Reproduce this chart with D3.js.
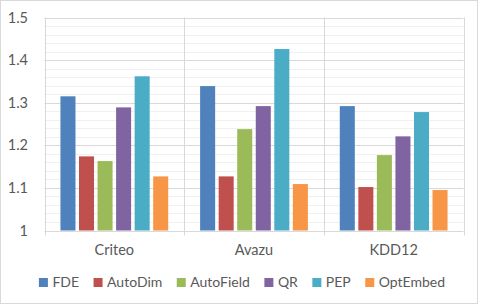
<!DOCTYPE html>
<html>
<head>
<meta charset="utf-8">
<script src="https://cdn.jsdelivr.net/npm/d3@7"></script>
<style>
  body { margin: 0; background: #fff; }
  text { font-family: Lato, "Open Sans", sans-serif; fill: #595959; }
</style>
</head>
<body>
<svg id="chart" width="478" height="304"></svg>
<script>
const datasets = ["Criteo", "Avazu", "KDD12"]
const methods = ["FDE", "AutoDim", "AutoField", "QR", "PEP", "OptEmbed"]
const colors = ["#4F81BD", "#C0504D", "#9BBB59", "#8064A2", "#4BACC6", "#F79646"]

// one array per method, in dataset order
const fde = [1.315, 1.339, 1.292]
const autoDim = [1.174, 1.127, 1.102]
const autoField = [1.163, 1.238, 1.177]
const qr = [1.289, 1.292, 1.221]
const pep = [1.362, 1.426, 1.278]
const optEmbed = [1.127, 1.109, 1.095]

const yTicks = [1, 1.1, 1.2, 1.3, 1.4, 1.5]

const series = [fde, autoDim, autoField, qr, pep, optEmbed]

const svg = d3.select("#chart")
const W = 478, H = 304
const m = { left: 44.5, right: 14.5, top: 17.5, bottom: 73.5 }

svg.append("rect")
  .attr("x", 0.5).attr("y", 0.5)
  .attr("width", W - 1).attr("height", H - 1)
  .attr("fill", "#fff").attr("stroke", "#d9d9d9")

const x0 = d3.scaleBand()
  .domain(datasets)
  .range([m.left, W - m.right])

const x1 = d3.scaleBand()
  .domain(methods)
  .range([0, x0.bandwidth()])
  .paddingInner(0.19)
  .paddingOuter(0.86)

const y = d3.scaleLinear()
  .domain([1, 1.5])
  .range([H - m.bottom, m.top])

// minor grid
svg.append("g")
  .selectAll("line")
  .data(d3.range(1.02, 1.5, 0.02).filter(v => Math.abs(v * 10 - Math.round(v * 10)) > 0.01))
  .join("line")
  .attr("x1", m.left).attr("x2", W - m.right)
  .attr("y1", d => Math.round(y(d)) + 0.5).attr("y2", d => Math.round(y(d)) + 0.5)
  .attr("stroke", "#f0f0f0")

// major grid
svg.append("g")
  .selectAll("line")
  .data(yTicks)
  .join("line")
  .attr("x1", m.left).attr("x2", W - m.right)
  .attr("y1", d => Math.round(y(d)) + 0.5).attr("y2", d => Math.round(y(d)) + 0.5)
  .attr("stroke", "#d9d9d9")

// category separators
const seps = datasets.map(d => x0(d)).concat([x0.range()[1]])
svg.append("g")
  .selectAll("line")
  .data(seps)
  .join("line")
  .attr("x1", d => Math.round(d) + 0.5).attr("x2", d => Math.round(d) + 0.5)
  .attr("y1", m.top).attr("y2", H - m.bottom + 5)
  .attr("stroke", "#d9d9d9")

// bars
svg.append("g")
  .selectAll("g")
  .data(datasets)
  .join("g")
  .attr("transform", d => `translate(${x0(d)},0)`)
  .selectAll("rect")
  .data((d, i) => methods.map((mName, j) => ({ method: mName, value: series[j][i], color: colors[j] })))
  .join("rect")
  .attr("x", d => x1(d.method))
  .attr("width", x1.bandwidth())
  .attr("y", d => y(d.value))
  .attr("height", d => y(1) - y(d.value))
  .attr("fill", d => d.color)

// y labels
svg.append("g")
  .selectAll("text")
  .data(yTicks)
  .join("text")
  .attr("x", 28)
  .attr("y", d => y(d))
  .attr("dy", "0.35em")
  .attr("text-anchor", "end")
  .style("font-size", "14.5px")
  .text(d => d3.format(".1~f")(d))

// category labels
svg.append("g")
  .selectAll("text")
  .data(datasets)
  .join("text")
  .attr("x", d => x0(d) + x0.bandwidth() / 2)
  .attr("y", 250)
  .attr("dy", "0.35em")
  .attr("text-anchor", "middle")
  .style("font-size", "14.5px")
  .text(d => d)

// legend
const leg = svg.append("g")
const items = leg.selectAll("g")
  .data(methods)
  .join("g")
items.append("rect")
  .attr("width", 9).attr("height", 9)
  .attr("y", 278)
  .attr("fill", (d, i) => colors[i])
items.append("text")
  .attr("x", 13.5)
  .attr("y", 282.5)
  .attr("dy", "0.35em")
  .style("font-size", "14px")
  .text(d => d)

let cur = 0
const offs = []
items.each(function () {
  const w = d3.select(this).select("text").node().getComputedTextLength()
  offs.push(cur)
  cur += 13.5 + w + 14.5
})
const total = cur - 14.5
const startX = 242 - total / 2
items.attr("transform", (d, i) => `translate(${startX + offs[i]},0)`)
</script>
</body>
</html>
